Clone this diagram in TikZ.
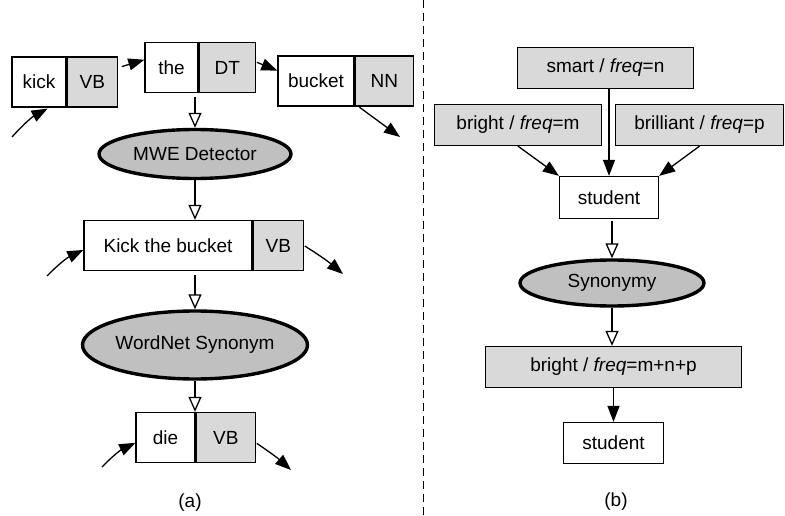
\documentclass[tikz,border=0pt]{standalone}
\usepackage{fontspec}
\setmainfont{Liberation Sans}
\usetikzlibrary{calc}
\usetikzlibrary{arrows.meta}
\usetikzlibrary{shapes.geometric}
\definecolor{tagfill}{RGB}{217,217,217}
\definecolor{opfill}{RGB}{192,192,192}
\tikzset{
 word/.style={draw, line width=1.3pt, fill=white, inner sep=0pt, minimum height=50pt},
 tag/.style={word, fill=tagfill, anchor=west},
 lex/.style={word, fill=tagfill, minimum height=41pt},
 op/.style={ellipse, draw, line width=3.4pt, fill=opfill, inner sep=0pt},
 arr/.style={line width=1.3pt, -{Triangle[length=16pt,width=12pt]}},
 oarr/.style={line width=1.3pt, -{Triangle[open,length=15pt,width=13pt,line width=1.3pt]}},
}

\begin{document}
\begin{tikzpicture}[x=1pt,y=-1pt,font=\fontsize{19}{23}\selectfont]
\useasboundingbox (0,0) rectangle (785,516);
\draw[line width=1pt,dash pattern=on 8pt off 5pt] (423,0)--(423,516);
% (a)
\node[word,minimum width=54pt] (kick) at (39,82) {kick};
\node[tag,minimum width=50pt] (kickt) at (kick.east) {VB};
\node[word,minimum width=53pt] (the) at (171.5,67.5) {the};
\node[tag,minimum width=56pt] (thet) at (the.east) {DT};
\node[word,minimum width=76pt] (bucket) at (316,81) {bucket};
\node[tag,minimum width=58pt] (buckett) at (bucket.east) {NN};
\node[op,minimum width=192pt,minimum height=49pt] (mwe) at (195,154) {MWE Detector};
\node[word,minimum width=168pt] (ktb) at (168,245.5) {Kick the bucket};
\node[tag,minimum width=50pt] (ktbt) at (ktb.east) {VB};
\node[op,minimum width=217pt,minimum height=68pt] (wns) at (195,345) {WordNet Synonym};
\node[word,minimum width=59pt] (die) at (165.5,437.5) {die};
\node[tag,minimum width=59pt] (diet) at (die.east) {VB};
\coordinate (kickin) at (12,137);
\coordinate (bucketout) at (400,137);
\coordinate (ktbin) at (47,276);
\coordinate (ktbout) at (343,274);
\coordinate (diein) at (102,467);
\coordinate (dieout) at (291,470);
\draw[arr,shorten >=2pt] (kickin) to[bend left=10] (kick.-68);
\draw[arr,shorten <=4pt] (kickt.29) -- (the.164);
\draw[arr,shorten <=1pt] (thet.11) -- (bucket.165);
\draw[arr,shorten <=1pt] (buckett.-135) -- (bucketout);
\draw[oarr,shorten <=4pt] (mwe.north |- the.south) -- (mwe.north);
\draw[oarr] (mwe.south) -- (mwe.south |- ktb.north);
\draw[arr] (ktbin) to[bend left=10] (ktb.183);
\draw[arr,shorten <=1pt] (ktbt.east) to[bend left=4] (ktbout);
\draw[oarr,shorten <=4pt] (wns.north |- ktb.south) -- (wns.north);
\draw[oarr] (wns.south) -- (wns.south |- die.north);
\draw[arr] (diein) to[bend left=10] (die.190);
\draw[arr,shorten <=1pt] (diet.-10) to[bend left=4] (dieout);
\node (la) at (190,503) {(a)};
% (b)
\node[lex,minimum width=176pt] (smart) at (605.5,68) {smart / \textit{freq}=n};
\node[lex,minimum width=167pt] (bright) at (518,125) {bright / \textit{freq}=m};
\node[lex,minimum width=168pt] (brill) at (699.5,125) {brilliant / \textit{freq}=p};
\node[word,minimum width=99pt,minimum height=42pt] (stud) at (609,197.5) {student};
\node[op,minimum width=184pt,minimum height=46pt] (syn) at (612,283) {Synonymy};
\node[lex,minimum width=256pt] (sum) at (613.5,367) {bright / \textit{freq}=m+n+p};
\node[word,minimum width=100pt,minimum height=41pt] (stud2) at (613.5,443) {student};
\draw[arr] (stud.north |- smart.south) -- (stud.north);
\draw[arr] (bright.south) -- (stud.north west);
\draw[arr] (brill.south) -- (stud.north east);
\draw[oarr,shorten <=2pt] (syn.north |- stud.south) -- (syn.north);
\draw[oarr] (syn.south) -- (syn.south |- sum.north);
\draw[arr] (sum.south) -- (stud2.north);
\node (lb) at (616,502) {(b)};
\end{tikzpicture}
\end{document}
